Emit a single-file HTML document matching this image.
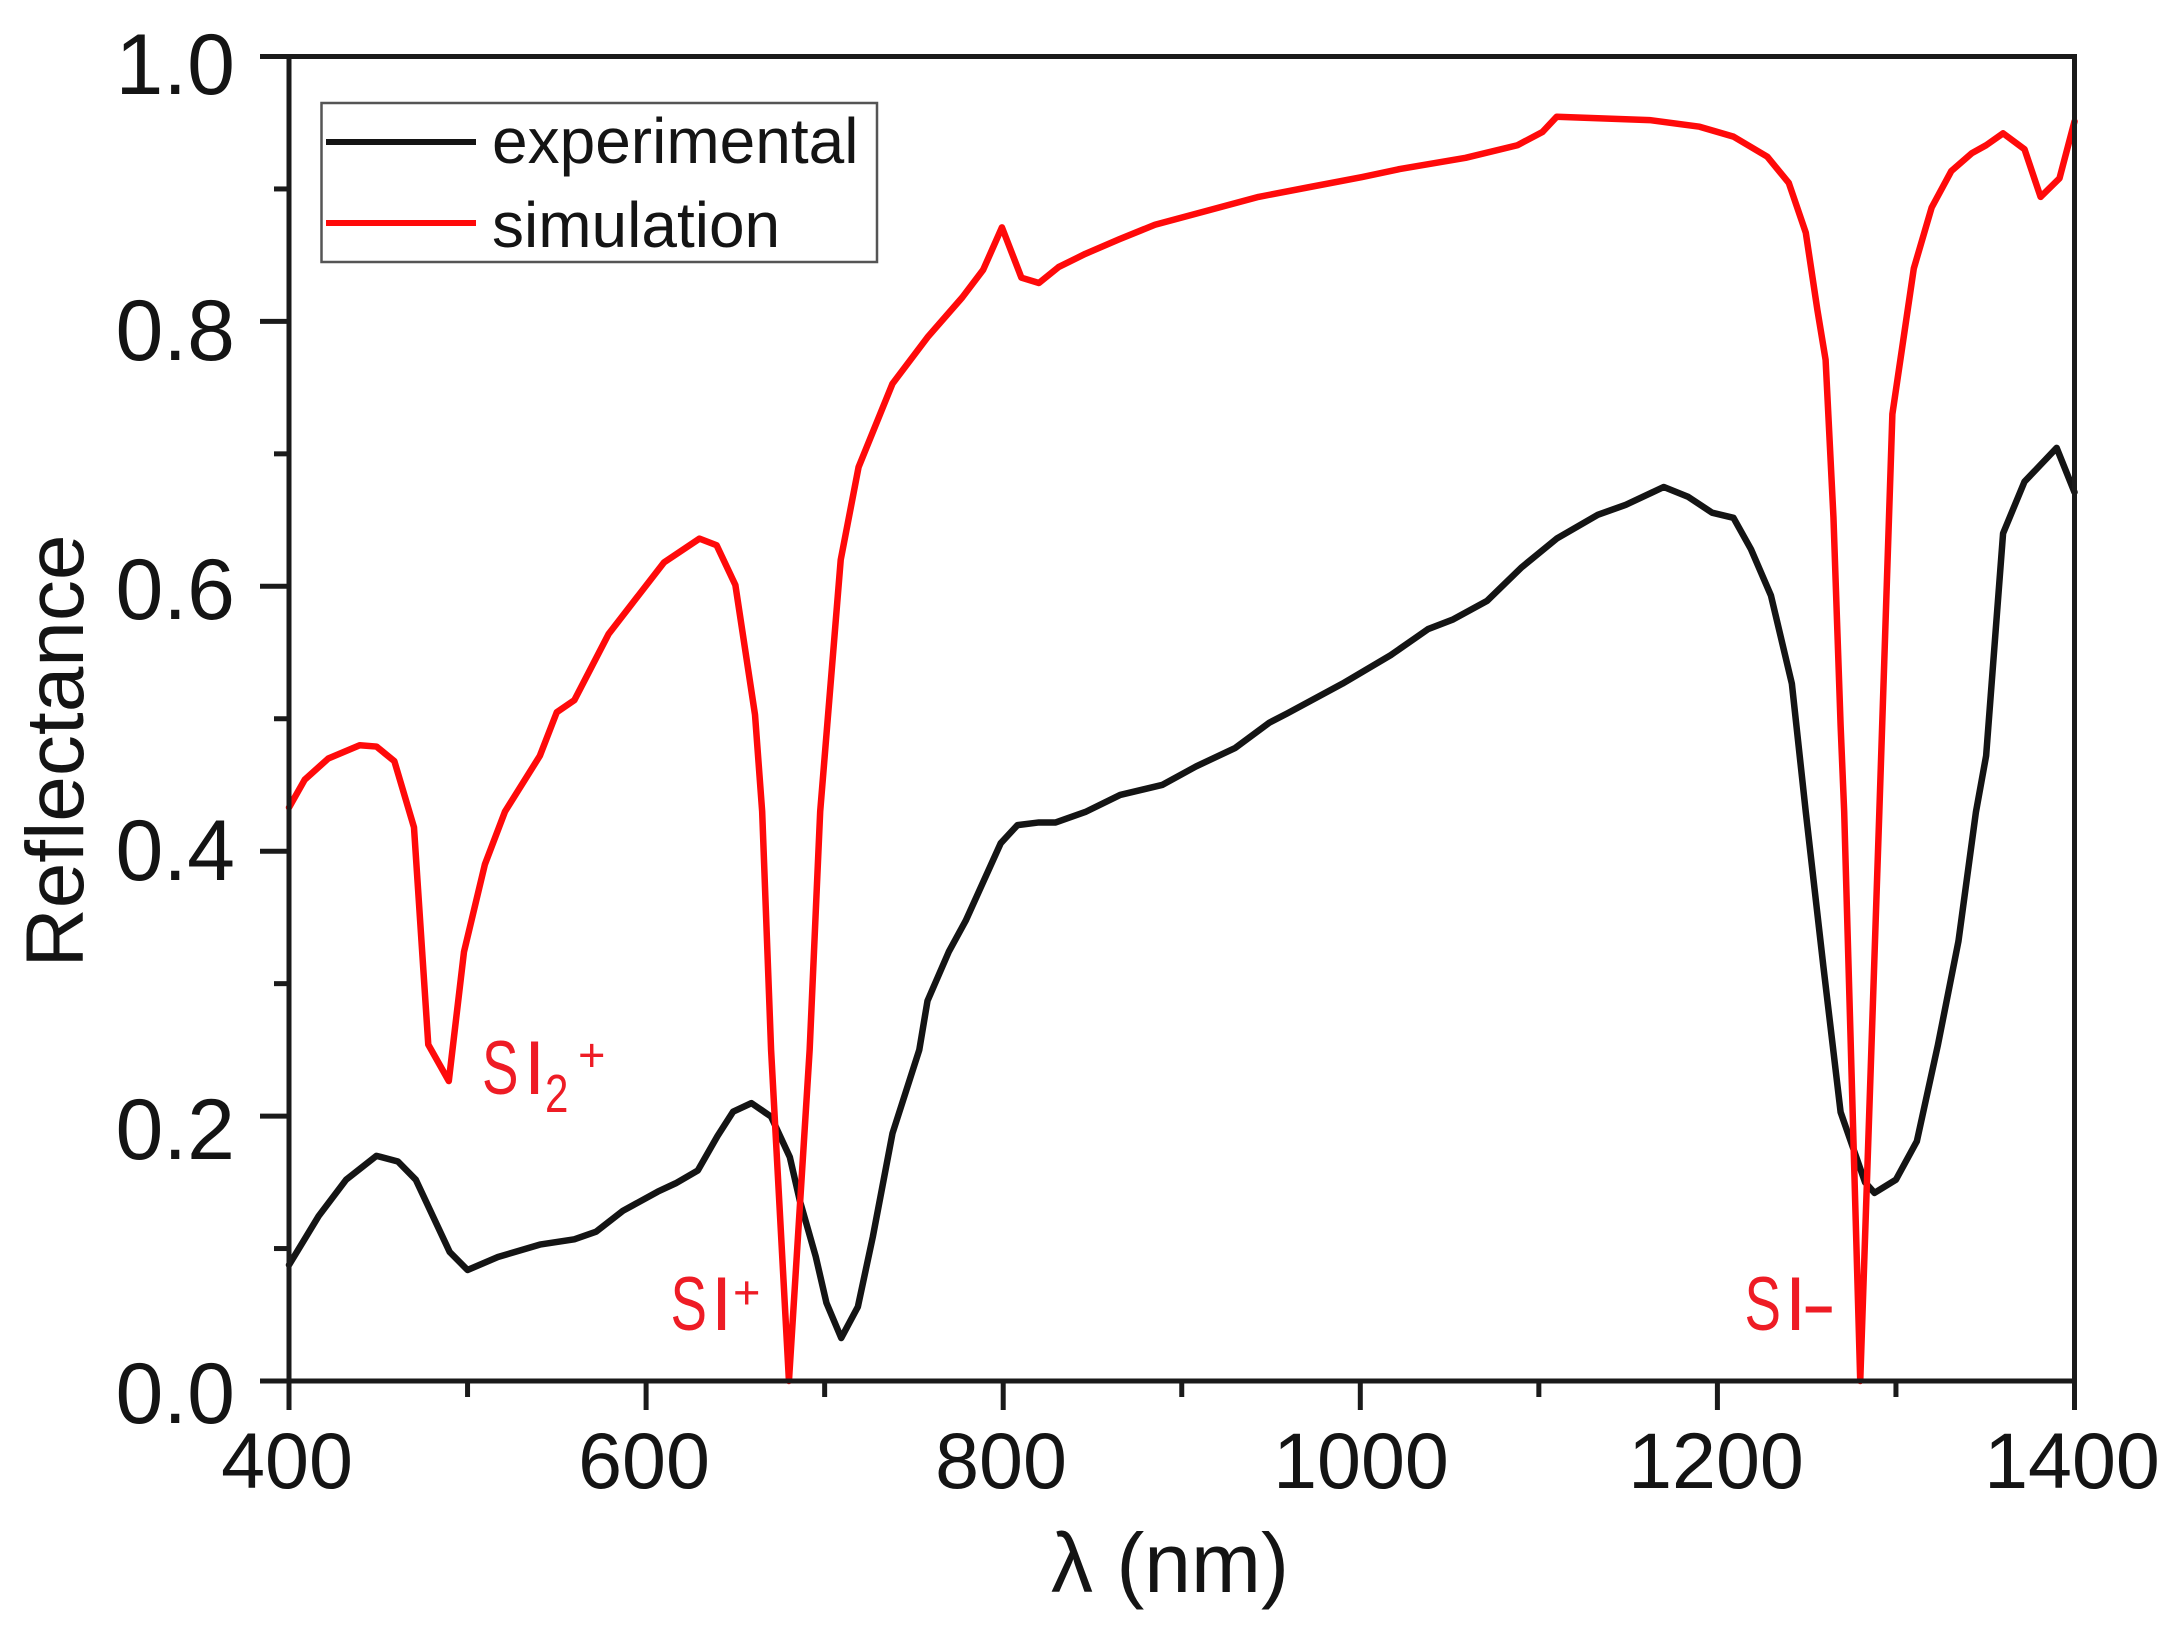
<!DOCTYPE html>
<html><head><meta charset="utf-8"><style>
html,body{margin:0;padding:0;background:#fff;}
svg{display:block;}
text{font-family:"Liberation Sans",Arial,sans-serif;}
</style></head><body>
<svg width="2172" height="1625" viewBox="0 0 2172 1625" xmlns="http://www.w3.org/2000/svg">
<rect width="2172" height="1625" fill="#fff"/>
<!-- data -->
<g transform="matrix(1.7855 0 0 -1324.5 -425.2 1381)" fill="none" stroke-linejoin="round" stroke-linecap="round">
<polyline vector-effect="non-scaling-stroke" stroke="#141414" stroke-width="6.5" points="400,0.0876 416.6,0.1245 432,0.152 449,0.170 461,0.1657 471,0.152 490,0.0974 500,0.0838 517,0.0936 540.5,0.103 559.8,0.107 572,0.1127 587,0.1285 606.6,0.143 616.6,0.1493 629,0.159 640,0.185 648.7,0.2033 659,0.2098 670,0.1996 680.5,0.169 686,0.1366 695,0.094 701,0.059 709.3,0.0325 718.6,0.056 727,0.109 738,0.187 753,0.25 757.6,0.287 769.5,0.324 779,0.3475 798.6,0.406 808,0.4197 820,0.4217 829.4,0.4217 846,0.4296 865.5,0.4425 889,0.450 908,0.464 930,0.478 949,0.497 959,0.504 990,0.5265 1017,0.548 1038,0.5677 1052,0.575 1071,0.589 1090.5,0.6145 1110,0.636 1133,0.654 1148.7,0.6615 1170,0.675 1183.7,0.6675 1197,0.6556 1209,0.6517 1218.8,0.628 1230,0.593 1241.7,0.5265 1249.5,0.4296 1259.4,0.3125 1269,0.203 1282.7,0.150 1288,0.142 1300,0.152 1311.7,0.181 1323.5,0.2537 1335,0.332 1344.8,0.4296 1350.5,0.472 1360,0.640 1372,0.679 1390,0.7045 1400,0.671"/>
<polyline vector-effect="non-scaling-stroke" stroke="#ff0a0a" stroke-width="6.5" points="400,0.433 408.8,0.454 422,0.47 439.6,0.48 449,0.479 459,0.468 470,0.418 478,0.254 489.5,0.2265 498,0.324 509.7,0.39 521,0.43 540.5,0.472 550,0.505 559.8,0.514 579,0.564 610,0.618 629.9,0.636 639.5,0.631 650,0.601 661,0.503 665,0.43 670,0.25 680,0 691.6,0.25 697.5,0.43 709,0.62 719,0.69 738,0.753 757.6,0.788 777,0.818 788.8,0.839 799.3,0.871 810.2,0.833 820,0.829 831,0.841 846,0.851 865,0.862 885,0.873 910,0.882 943,0.894 970,0.901 1001,0.909 1022,0.915 1059,0.9235 1088,0.933 1102,0.943 1110,0.9545 1162,0.952 1190,0.947 1209,0.9395 1228,0.9243 1240,0.9045 1249.5,0.867 1256,0.8086 1260.6,0.771 1265,0.652 1269,0.495 1271,0.43 1280,0 1290.7,0.43 1298,0.73 1310,0.84 1320,0.886 1331,0.9135 1342.5,0.927 1350.5,0.933 1360,0.942 1372,0.930 1381,0.894 1391.6,0.908 1400,0.951"/>
</g>
<!-- axes frame -->
<rect x="289" y="56.5" width="1785.5" height="1324.5" fill="none" stroke="#1a1a1a" stroke-width="5"/>
<!-- ticks -->
<g stroke="#1a1a1a" stroke-width="5">
<line x1="260" y1="1381" x2="289" y2="1381"/>
<line x1="260" y1="1116.1" x2="289" y2="1116.1"/>
<line x1="260" y1="851.2" x2="289" y2="851.2"/>
<line x1="260" y1="586.3" x2="289" y2="586.3"/>
<line x1="260" y1="321.4" x2="289" y2="321.4"/>
<line x1="260" y1="56.5" x2="289" y2="56.5"/>
<line x1="274" y1="1248.55" x2="289" y2="1248.55"/>
<line x1="274" y1="983.65" x2="289" y2="983.65"/>
<line x1="274" y1="718.75" x2="289" y2="718.75"/>
<line x1="274" y1="453.85" x2="289" y2="453.85"/>
<line x1="274" y1="188.95" x2="289" y2="188.95"/>
<line x1="289" y1="1381" x2="289" y2="1410"/>
<line x1="646.1" y1="1381" x2="646.1" y2="1410"/>
<line x1="1003.2" y1="1381" x2="1003.2" y2="1410"/>
<line x1="1360.3" y1="1381" x2="1360.3" y2="1410"/>
<line x1="1717.4" y1="1381" x2="1717.4" y2="1410"/>
<line x1="2074.5" y1="1381" x2="2074.5" y2="1410"/>
<line x1="467.55" y1="1381" x2="467.55" y2="1397"/>
<line x1="824.65" y1="1381" x2="824.65" y2="1397"/>
<line x1="1181.75" y1="1381" x2="1181.75" y2="1397"/>
<line x1="1538.85" y1="1381" x2="1538.85" y2="1397"/>
<line x1="1895.95" y1="1381" x2="1895.95" y2="1397"/>
</g>
<!-- y tick labels -->
<g font-size="86" fill="#141414" text-anchor="end">
<text x="235" y="1423">0.0</text>
<text x="235" y="1159">0.2</text>
<text x="235" y="880">0.4</text>
<text x="235" y="619">0.6</text>
<text x="235" y="360">0.8</text>
<text x="235" y="94">1.0</text>
</g>
<!-- x tick labels -->
<g font-size="79" fill="#141414" text-anchor="middle">
<text x="287" y="1488">400</text>
<text x="644" y="1488">600</text>
<text x="1001" y="1488">800</text>
<text x="1361" y="1488">1000</text>
<text x="1716" y="1488">1200</text>
<text x="2072" y="1488">1400</text>
</g>
<!-- axis titles -->
<text x="1170" y="1592" font-size="84" fill="#141414" text-anchor="middle">λ (nm)</text>
<text transform="translate(83,751) rotate(-90)" font-size="82" fill="#141414" text-anchor="middle">Reflectance</text>
<!-- legend -->
<rect x="321.5" y="103" width="555.5" height="159" fill="#fff" stroke="#555" stroke-width="2.5"/>
<line x1="326" y1="142" x2="476" y2="142" stroke="#141414" stroke-width="6"/>
<line x1="326" y1="223" x2="476" y2="223" stroke="#ff0a0a" stroke-width="6"/>
<text x="492" y="163" font-size="64" fill="#141414">experimental</text>
<text x="492" y="247" font-size="64" fill="#141414">simulation</text>
<!-- annotations -->
<g fill="#ee1c25">
<!-- SI2+ -->
<text transform="translate(482,1094) scale(0.72,1)" font-size="76">S</text>
<text x="524" y="1094" font-size="76">I</text>
<text transform="translate(545,1112) scale(0.78,1)" font-size="54">2</text>
<text x="578" y="1071" font-size="47">+</text>
<!-- SI+ -->
<text transform="translate(670.5,1330) scale(0.72,1)" font-size="76">S</text>
<text x="711" y="1330" font-size="76">I</text>
<text x="733" y="1308.5" font-size="47">+</text>
<!-- SI- -->
<text transform="translate(1744.5,1330) scale(0.72,1)" font-size="76">S</text>
<text x="1785" y="1330" font-size="76">I</text>
<text transform="translate(1801,1330) scale(1.4,1)" font-size="76">-</text>
</g>
</svg>
</body></html>
